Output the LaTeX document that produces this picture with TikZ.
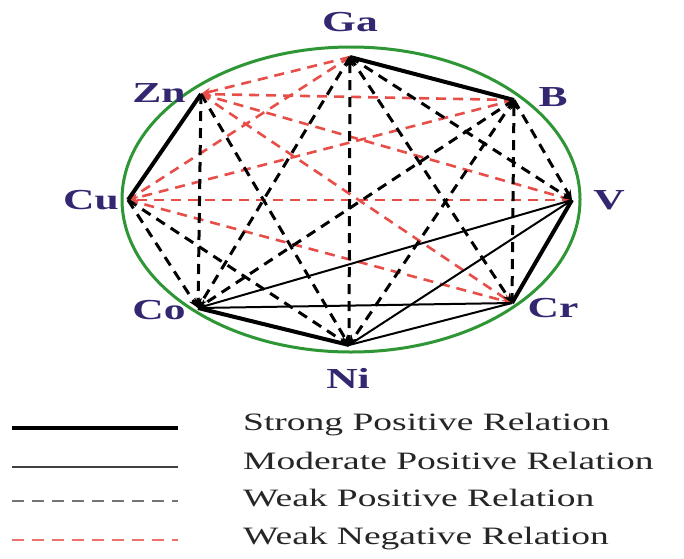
\documentclass[tikz,border=0pt]{standalone}
\usepackage{fontspec}
\usepackage{graphicx}
\setmainfont{Liberation Serif}
\usetikzlibrary{arrows.meta}
\definecolor{lblcol}{RGB}{52,38,112}
\definecolor{redrel}{RGB}{232,78,72}
\definecolor{ellgreen}{RGB}{46,150,52}
\newcommand{\widetext}[1]{\scalebox{1.5}[1]{#1}}
\tikzset{
  elname/.style={font=\fontsize{29}{32}\selectfont\bfseries, text=lblcol, inner sep=0pt},
  legtext/.style={font=\fontsize{25}{28}\selectfont, text=black!85, anchor=west, inner sep=0pt},
  strongrel/.style={line width=4pt, black},
  moderaterel/.style={line width=2pt, black},
  weakpos/.style={line width=3pt, black, dash pattern=on 10pt off 7pt},
  weakneg/.style={line width=2.6pt, redrel, dash pattern=on 10pt off 7pt},
  tip/.style={-{Stealth[length=10pt,width=8pt]}},
  ring/.style={line width=3pt, ellgreen}
}
\begin{document}
\begin{tikzpicture}[x=1pt,y=-1pt]
\useasboundingbox[fill=white] (0,0) rectangle (684,558);
% element positions
\coordinate (Ga) at (350,57);
\coordinate (B)  at (514,100);
\coordinate (V)  at (572,200);
\coordinate (Cr) at (512,303);
\coordinate (Ni) at (349,345);
\coordinate (Co) at (198,308);
\coordinate (Cu) at (128,200);
\coordinate (Zn) at (201,94);
% ellipse
\draw[ring] (351,199.5) ellipse [x radius=229, y radius=152.5];
% weak negative relations
\draw[weakneg,tip] (Ga) -- (Cu);
\draw[weakneg,tip] (Ga) -- (Zn);
\draw[weakneg,tip] (B) -- (Zn);
\draw[weakneg,tip] (B) -- (Cu);
\draw[weakneg,tip] (Zn) -- (V);
\draw[weakneg,tip] (Zn) -- (Cr);
\draw[weakneg,tip] (V) -- (Cu);
\draw[weakneg,tip] (Cu) -- (Cr);
% weak positive relations
\draw[weakpos,tip] (Zn) -- (Co);
\draw[weakpos,tip] (Cu) -- (Co);
\draw[weakpos,tip] (Ga) -- (Co);
\draw[weakpos,tip] (B) -- (Co);
\draw[weakpos,tip] (Zn) -- (Ni);
\draw[weakpos,tip] (Cu) -- (Ni);
\draw[weakpos,tip] (B) -- (Ni);
\draw[weakpos,tip] (Ni) -- (Ga);
\draw[weakpos,tip] (Cr) -- (B);
\draw[weakpos,tip] (Ga) -- (V);
\draw[weakpos,tip] (Ga) -- (Cr);
\draw[weakpos,tip] (B) -- (V);
% moderate positive relations
\draw[moderaterel] (Co) -- (V);
\draw[moderaterel] (Co) -- (Cr);
\draw[moderaterel] (Ni) -- (V);
\draw[moderaterel] (Ni) -- (Cr);
% strong positive relations
\draw[strongrel] (Ga) -- (B);
\draw[strongrel] (Zn) -- (Cu);
\draw[strongrel] (V) -- (Cr);
\draw[strongrel] (Co) -- (Ni);
% labels
\node[elname] (lGa) at (350,22)  {\widetext{Ga}};
\node[elname] (lZn) at (159,93)  {\widetext{Zn}};
\node[elname] (lB)  at (553,97)  {\widetext{B}};
\node[elname] (lV)  at (609,200) {\widetext{V}};
\node[elname] (lCr) at (553,308) {\widetext{Cr}};
\node[elname] (lNi) at (348,378) {\widetext{Ni}};
\node[elname] (lCo) at (159,310) {\widetext{Co}};
\node[elname] (lCu) at (91,200)  {\widetext{Cu}};
% legend
\coordinate (s1) at (12,428);  \coordinate (e1) at (178,428);
\coordinate (s2) at (12,467);  \coordinate (e2) at (178,467);
\coordinate (s3) at (12,501);  \coordinate (e3) at (178,501);
\coordinate (s4) at (12,540);  \coordinate (e4) at (178,540);
\draw[line width=3.6pt, black] (s1) -- (e1);
\draw[line width=2pt, black!75] (s2) -- (e2);
\draw[line width=2.6pt, black!55, dash pattern=on 12pt off 8pt] (s3) -- (e3);
\draw[line width=2.6pt, redrel!80, dash pattern=on 12pt off 8pt] (s4) -- (e4);
\node[legtext] (t1) at (243,425) {\widetext{Strong Positive Relation}};
\node[legtext] (t2) at (243,461) {\widetext{Moderate Positive Relation}};
\node[legtext] (t3) at (243,498) {\widetext{Weak Positive Relation}};
\node[legtext] (t4) at (243,539) {\widetext{Weak Negative Relation}};
\end{tikzpicture}
\end{document}
